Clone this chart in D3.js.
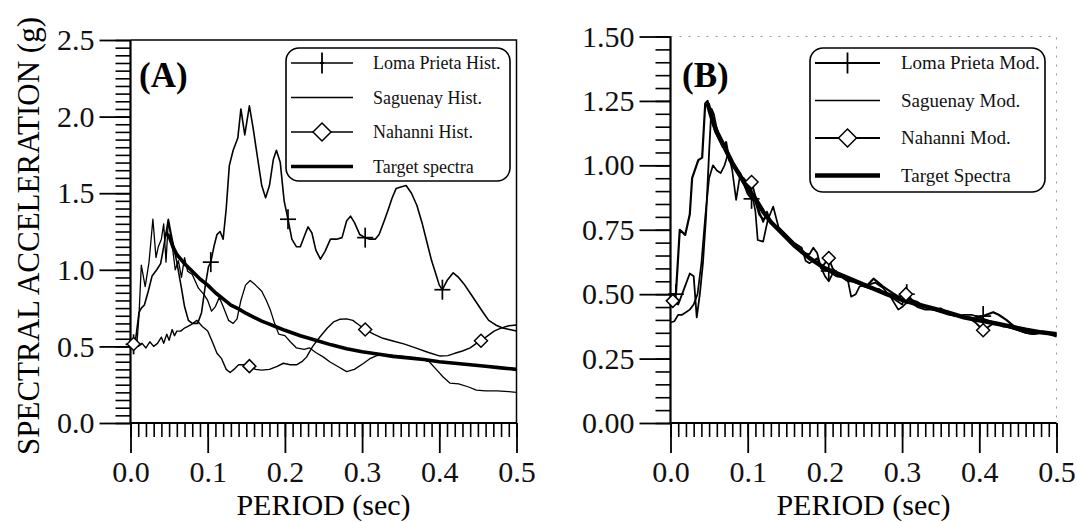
<!DOCTYPE html>
<html>
<head>
<meta charset="utf-8">
<script src="https://cdn.jsdelivr.net/npm/d3@7.9.0/dist/d3.min.js"></script>
<style>
  html, body { margin: 0; padding: 0; background: #fff; }
  svg { display: block; font-family: "Liberation Serif", "Times New Roman", serif; }
  .tick text { font-size: 30px; fill: #111; }
</style>
</head>
<body>
<svg id="chart" width="1077" height="522"></svg>
<script>
// ---- panel A: historical records, [period (s), Sa (g)] ----
const lomaHistA = [[0,0.5],[0.006,0.52],[0.011,0.72],[0.014,0.75],[0.018,0.77],[0.023,0.86],[0.028,0.96],[0.034,1.0],[0.039,1.04],[0.043,1.15],[0.046,1.24],[0.049,1.33],[0.052,1.25],[0.056,1.15],[0.06,1.05],[0.066,0.88],[0.07,0.76],[0.075,0.67],[0.08,0.65],[0.087,0.65],[0.092,0.72],[0.097,0.9],[0.101,1.02],[0.104,1.05],[0.108,1.15],[0.112,1.23],[0.116,1.25],[0.12,1.2],[0.124,1.4],[0.128,1.68],[0.133,1.78],[0.139,1.86],[0.143,2.05],[0.148,1.88],[0.154,2.07],[0.159,1.92],[0.164,1.75],[0.17,1.55],[0.175,1.47],[0.18,1.55],[0.185,1.72],[0.189,1.78],[0.194,1.7],[0.199,1.45],[0.204,1.33],[0.209,1.2],[0.215,1.15],[0.22,1.15],[0.226,1.23],[0.23,1.28],[0.235,1.24],[0.24,1.13],[0.246,1.07],[0.252,1.12],[0.259,1.2],[0.267,1.2],[0.274,1.21],[0.28,1.32],[0.285,1.35],[0.29,1.31],[0.297,1.23],[0.304,1.21],[0.31,1.2],[0.317,1.2],[0.322,1.23],[0.328,1.31],[0.333,1.38],[0.339,1.47],[0.344,1.53],[0.35,1.54],[0.357,1.55],[0.364,1.5],[0.371,1.42],[0.378,1.3],[0.384,1.18],[0.39,1.06],[0.395,0.98],[0.4,0.9],[0.404,0.87],[0.41,0.93],[0.418,0.98],[0.425,0.95],[0.433,0.9],[0.441,0.84],[0.449,0.78],[0.457,0.72],[0.464,0.67],[0.473,0.64],[0.482,0.62],[0.491,0.61],[0.5,0.6]];
const sagHistA = [[0,0.5],[0.008,0.5],[0.011,0.7],[0.014,1.03],[0.019,0.89],[0.024,1.05],[0.029,1.33],[0.033,1.08],[0.036,1.15],[0.04,1.2],[0.043,1.3],[0.046,1.05],[0.049,1.32],[0.052,1.22],[0.055,1.12],[0.058,1.0],[0.062,1.06],[0.066,0.95],[0.07,1.08],[0.074,0.99],[0.08,0.97],[0.088,0.88],[0.095,0.84],[0.1,0.8],[0.105,0.73],[0.11,0.76],[0.115,0.82],[0.12,0.76],[0.127,0.67],[0.133,0.65],[0.138,0.68],[0.143,0.8],[0.149,0.9],[0.155,0.93],[0.162,0.9],[0.17,0.86],[0.176,0.8],[0.181,0.74],[0.186,0.66],[0.192,0.58],[0.2,0.57],[0.207,0.53],[0.215,0.49],[0.225,0.48],[0.232,0.49],[0.24,0.46],[0.25,0.43],[0.258,0.4],[0.268,0.37],[0.28,0.335],[0.29,0.35],[0.302,0.39],[0.31,0.42],[0.319,0.44],[0.33,0.445],[0.345,0.44],[0.36,0.43],[0.375,0.42],[0.387,0.4],[0.396,0.35],[0.405,0.3],[0.414,0.26],[0.425,0.255],[0.438,0.235],[0.448,0.215],[0.46,0.21],[0.475,0.21],[0.49,0.205],[0.5,0.2]];
const nahHistA = [[0,0.5],[0.005,0.52],[0.01,0.5],[0.015,0.52],[0.02,0.49],[0.025,0.53],[0.03,0.5],[0.035,0.52],[0.04,0.56],[0.043,0.52],[0.047,0.58],[0.05,0.54],[0.054,0.61],[0.057,0.57],[0.06,0.6],[0.065,0.6],[0.07,0.62],[0.078,0.64],[0.086,0.67],[0.093,0.63],[0.1,0.6],[0.106,0.53],[0.112,0.455],[0.118,0.42],[0.124,0.35],[0.129,0.33],[0.134,0.35],[0.14,0.38],[0.146,0.38],[0.155,0.37],[0.162,0.35],[0.17,0.345],[0.18,0.35],[0.19,0.37],[0.198,0.39],[0.207,0.38],[0.215,0.38],[0.222,0.4],[0.228,0.43],[0.236,0.5],[0.245,0.56],[0.255,0.62],[0.263,0.66],[0.271,0.677],[0.28,0.68],[0.288,0.67],[0.296,0.64],[0.305,0.607],[0.315,0.58],[0.327,0.553],[0.34,0.535],[0.355,0.515],[0.371,0.487],[0.386,0.46],[0.401,0.437],[0.411,0.44],[0.42,0.455],[0.43,0.47],[0.44,0.49],[0.448,0.52],[0.455,0.54],[0.463,0.57],[0.471,0.6],[0.479,0.618],[0.49,0.635],[0.5,0.64]];
const targetA = [[0.045,1.24],[0.05,1.22],[0.055,1.15],[0.06,1.1],[0.07,1.04],[0.08,0.99],[0.09,0.94],[0.1,0.9],[0.11,0.85],[0.12,0.81],[0.13,0.77],[0.14,0.745],[0.15,0.715],[0.16,0.69],[0.17,0.665],[0.18,0.645],[0.19,0.625],[0.2,0.605],[0.22,0.57],[0.24,0.54],[0.26,0.51],[0.28,0.485],[0.3,0.465],[0.32,0.45],[0.34,0.435],[0.36,0.425],[0.38,0.415],[0.4,0.4],[0.42,0.39],[0.44,0.38],[0.46,0.37],[0.48,0.36],[0.5,0.35]];
const lomaMarksA = [0.004, 0.104, 0.204, 0.304, 0.404];
const nahMarksA = [0.004, 0.154, 0.304, 0.454];

// ---- panel B: modified records ----
const lomaModB = [[0,0.5],[0.007,0.5],[0.012,0.75],[0.019,0.73],[0.025,0.81],[0.028,0.95],[0.036,1.02],[0.041,1.03],[0.045,1.24],[0.048,1.25],[0.053,1.18],[0.058,1.13],[0.063,1.1],[0.068,1.07],[0.072,1.09],[0.076,1.02],[0.08,1.0],[0.085,0.98],[0.09,0.97],[0.095,0.93],[0.1,0.89],[0.105,0.87],[0.11,0.86],[0.115,0.81],[0.12,0.79],[0.125,0.8],[0.13,0.78],[0.14,0.75],[0.15,0.72],[0.16,0.69],[0.17,0.66],[0.18,0.64],[0.19,0.62],[0.2,0.6],[0.205,0.59],[0.215,0.57],[0.225,0.565],[0.235,0.55],[0.245,0.54],[0.255,0.535],[0.263,0.56],[0.275,0.53],[0.285,0.51],[0.295,0.49],[0.306,0.5],[0.315,0.47],[0.325,0.455],[0.335,0.445],[0.345,0.44],[0.355,0.43],[0.365,0.42],[0.375,0.415],[0.385,0.41],[0.395,0.405],[0.405,0.415],[0.418,0.43],[0.425,0.42],[0.435,0.4],[0.445,0.375],[0.455,0.36],[0.47,0.35],[0.485,0.35],[0.5,0.345]];
const sagModB = [[0,0.39],[0.005,0.395],[0.01,0.42],[0.015,0.42],[0.02,0.43],[0.025,0.44],[0.03,0.46],[0.035,0.5],[0.04,0.62],[0.045,0.8],[0.05,0.95],[0.055,1.0],[0.06,0.98],[0.065,0.97],[0.07,1.0],[0.075,1.05],[0.08,0.98],[0.085,0.866],[0.09,0.96],[0.095,0.95],[0.1,0.93],[0.105,0.9],[0.11,0.82],[0.113,0.71],[0.12,0.704],[0.126,0.788],[0.133,0.84],[0.14,0.76],[0.15,0.73],[0.16,0.7],[0.17,0.68],[0.175,0.63],[0.18,0.62],[0.19,0.64],[0.2,0.57],[0.205,0.55],[0.21,0.58],[0.22,0.57],[0.23,0.55],[0.234,0.49],[0.24,0.5],[0.245,0.53],[0.255,0.535],[0.265,0.545],[0.275,0.525],[0.285,0.49],[0.295,0.44],[0.3,0.45],[0.31,0.48],[0.32,0.47],[0.33,0.45],[0.34,0.44],[0.35,0.43],[0.36,0.42],[0.37,0.415],[0.38,0.42],[0.39,0.42],[0.4,0.41],[0.41,0.4],[0.42,0.39],[0.43,0.375],[0.44,0.37],[0.45,0.36],[0.46,0.35],[0.47,0.345],[0.48,0.35],[0.49,0.35],[0.5,0.34]];
const nahModB = [[0,0.48],[0.005,0.47],[0.01,0.46],[0.015,0.5],[0.02,0.54],[0.025,0.58],[0.03,0.57],[0.034,0.41],[0.038,0.5],[0.042,0.62],[0.046,0.8],[0.05,1.05],[0.053,1.22],[0.056,1.2],[0.06,1.14],[0.065,1.1],[0.07,1.06],[0.075,1.03],[0.08,1.0],[0.085,0.99],[0.09,0.97],[0.095,0.94],[0.1,0.92],[0.105,0.935],[0.11,0.88],[0.115,0.82],[0.12,0.78],[0.125,0.82],[0.13,0.78],[0.14,0.75],[0.15,0.72],[0.155,0.7],[0.165,0.68],[0.17,0.66],[0.18,0.655],[0.185,0.68],[0.19,0.66],[0.195,0.6],[0.205,0.64],[0.21,0.6],[0.22,0.57],[0.23,0.55],[0.24,0.55],[0.25,0.53],[0.26,0.52],[0.27,0.52],[0.28,0.5],[0.29,0.48],[0.3,0.46],[0.305,0.5],[0.31,0.47],[0.32,0.45],[0.33,0.44],[0.34,0.44],[0.35,0.445],[0.36,0.425],[0.37,0.42],[0.38,0.41],[0.39,0.4],[0.395,0.39],[0.405,0.36],[0.41,0.37],[0.42,0.39],[0.43,0.38],[0.44,0.37],[0.45,0.36],[0.46,0.35],[0.47,0.345],[0.48,0.35],[0.49,0.345],[0.5,0.335]];
const targetB = [[0.048,1.24],[0.05,1.22],[0.055,1.17],[0.06,1.13],[0.07,1.07],[0.08,1.01],[0.09,0.96],[0.1,0.91],[0.11,0.87],[0.12,0.82],[0.13,0.78],[0.14,0.75],[0.15,0.72],[0.16,0.69],[0.17,0.665],[0.18,0.64],[0.19,0.62],[0.2,0.6],[0.22,0.575],[0.24,0.55],[0.26,0.525],[0.28,0.5],[0.3,0.478],[0.32,0.46],[0.34,0.445],[0.36,0.428],[0.38,0.41],[0.4,0.398],[0.42,0.387],[0.44,0.375],[0.46,0.362],[0.48,0.352],[0.5,0.345]];
const lomaMarksB = [0.007, 0.105, 0.205, 0.306, 0.405];
const nahMarksB = [0.003, 0.105, 0.205, 0.305, 0.405];

const xTicks = [0, 0.1, 0.2, 0.3, 0.4, 0.5];
const yTicksA = [0, 0.5, 1.0, 1.5, 2.0, 2.5];
const yTicksB = [0, 0.25, 0.5, 0.75, 1.0, 1.25, 1.5];
const legendA = ['Loma Prieta Hist.', 'Saguenay Hist.', 'Nahanni Hist.', 'Target spectra'];
const legendB = ['Loma Prieta Mod.', 'Saguenay Mod.', 'Nahanni Mod.', 'Target Spectra'];

const svg = d3.select('#chart');

function interp(series, t) {
  const i = d3.bisector(d => d[0]).left(series, t);
  if (i <= 0) return series[0][1];
  if (i >= series.length) return series[series.length - 1][1];
  const [t0, v0] = series[i - 1], [t1, v1] = series[i];
  return v0 + (v1 - v0) * (t - t0) / (t1 - t0);
}

function cross(g, cx, cy, w, h, sw) {
  g.append('line').attr('x1', cx - w / 2).attr('x2', cx + w / 2).attr('y1', cy).attr('y2', cy)
    .attr('stroke', '#000').attr('stroke-width', sw);
  g.append('line').attr('x1', cx).attr('x2', cx).attr('y1', cy - h / 2).attr('y2', cy + h / 2)
    .attr('stroke', '#000').attr('stroke-width', sw);
}
function diamond(g, cx, cy, r, sw) {
  g.append('path').attr('d', `M${cx},${cy - r}L${cx + r},${cy}L${cx},${cy + r}L${cx - r},${cy}Z`)
    .attr('fill', '#fff').attr('stroke', '#000').attr('stroke-width', sw);
}

function panel(cfg) {
  const x = d3.scaleLinear([0, 0.5], cfg.xr);
  const y = d3.scaleLinear([0, cfg.ymax], cfg.yr);
  const g = svg.append('g');

  // frame (top / right)
  g.append('path')
    .attr('d', `M${cfg.xr[0]},${cfg.yr[1]}H${cfg.xr[1]}V${cfg.yr[0]}`)
    .attr('fill', 'none')
    .attr('stroke', cfg.frameColor).attr('stroke-width', cfg.frameWidth)
    .attr('stroke-dasharray', cfg.frameDash);

  // x minor + major ticks
  g.append('g').attr('transform', `translate(0,${cfg.yr[0]})`)
    .call(d3.axisBottom(x).tickValues(d3.range(0, 51).map(i => i / 100)).tickSize(14).tickFormat(''))
    .call(a => a.select('.domain').remove())
    .call(a => a.selectAll('line').attr('stroke-width', 1.6));
  g.append('g').attr('transform', `translate(0,${cfg.yr[0]})`)
    .call(d3.axisBottom(x).tickValues(xTicks).tickSize(30).tickPadding(8).tickFormat(d3.format('.1f')))
    .call(a => a.select('.domain').remove())
    .call(a => a.selectAll('line').attr('stroke-width', 1.8))
    .call(a => a.selectAll('text').attr('font-family', '"Liberation Serif", serif'));

  // y minor + major ticks
  const yMinor = d3.range(0, Math.round(cfg.ymax / 0.05) + 1).map(i => i * 0.05);
  g.append('g').attr('transform', `translate(${cfg.xr[0]},0)`)
    .call(d3.axisLeft(y).tickValues(yMinor).tickSize(15).tickFormat(''))
    .call(a => a.select('.domain').remove())
    .call(a => a.selectAll('line').attr('stroke-width', 1.6));
  g.append('g').attr('transform', `translate(${cfg.xr[0]},0)`)
    .call(d3.axisLeft(y).tickValues(cfg.yTicks).tickSize(31).tickPadding(5).tickFormat(d3.format(cfg.yFmt)))
    .call(a => a.select('.domain').remove())
    .call(a => a.selectAll('line').attr('stroke-width', 1.8))
    .call(a => a.selectAll('text').attr('font-family', '"Liberation Serif", serif'));

  // axis lines
  g.append('line').attr('x1', cfg.xr[0]).attr('x2', cfg.xr[1]).attr('y1', cfg.yr[0]).attr('y2', cfg.yr[0])
    .attr('stroke', '#000').attr('stroke-width', 2.2);
  g.append('line').attr('x1', cfg.xr[0]).attr('x2', cfg.xr[0]).attr('y1', cfg.yr[0]).attr('y2', cfg.yr[1])
    .attr('stroke', '#000').attr('stroke-width', 2.2);

  // curves
  const line = d3.line().x(d => x(d[0])).y(d => y(d[1]));
  cfg.series.forEach(s => {
    g.append('path').datum(s.data).attr('d', line)
      .attr('fill', 'none').attr('stroke', '#000')
      .attr('stroke-width', s.width).attr('stroke-linejoin', 'round');
  });
  cfg.lomaMarks.forEach(t => cross(g, x(t), y(interp(cfg.series[0].data, t)), 16, 20, 1.7));
  cfg.nahMarks.forEach(t => diamond(g, x(t), y(interp(cfg.series[2].data, t)), 6.5, 1.5));

  // panel tag
  g.append('text').attr('x', cfg.tag[1]).attr('y', 87)
    .attr('font-size', 35).attr('font-weight', 'bold').text(cfg.tag[0]);

  // legend
  const L = cfg.legend;
  g.append('rect').attr('x', L.x).attr('y', L.y).attr('width', L.w).attr('height', L.h)
    .attr('rx', 13).attr('fill', '#fff').attr('stroke', '#000').attr('stroke-width', 1.6);
  cfg.labels.forEach((lab, i) => {
    const ry = L.y + L.row0 + i * L.step;
    const s = cfg.series[i];
    g.append('line').attr('x1', L.x + 5).attr('x2', L.x + 5 + L.lineW).attr('y1', ry).attr('y2', ry)
      .attr('stroke', '#000').attr('stroke-width', s.width);
    const mx = L.x + 5 + L.lineW / 2;
    if (i === 0) cross(g, mx, ry, 4, 21, 1.8);
    if (i === 2) diamond(g, mx, ry, 9, 1.5);
    g.append('text').attr('x', L.textX).attr('y', ry + 6)
      .attr('font-size', L.fs).attr('fill', '#111').text(lab);
  });

  // axis title
  g.append('text').attr('x', (cfg.xr[0] + cfg.xr[1]) / 2).attr('y', 515)
    .attr('text-anchor', 'middle').attr('font-size', 30).text('PERIOD (sec)');
}

panel({
  xr: [130.5, 516.5], yr: [423, 40], ymax: 2.5, yTicks: yTicksA, yFmt: '.1f',
  frameColor: '#000', frameWidth: 1.5, frameDash: null,
  series: [
    { data: lomaHistA, width: 1.6 },
    { data: sagHistA, width: 1.3 },
    { data: nahHistA, width: 1.4 },
    { data: targetA, width: 3.6 }
  ],
  lomaMarks: lomaMarksA, nahMarks: nahMarksA,
  tag: ['(A)', 139],
  legend: { x: 286, y: 48, w: 224, h: 133, row0: 15, step: 34.5, lineW: 62, textX: 373, fs: 18 },
  labels: legendA
});

panel({
  xr: [670.5, 1056.5], yr: [423, 36.5], ymax: 1.5, yTicks: yTicksB, yFmt: '.2f',
  frameColor: '#999', frameWidth: 1, frameDash: '2,7',
  series: [
    { data: lomaModB, width: 2.2 },
    { data: sagModB, width: 1.7 },
    { data: nahModB, width: 1.8 },
    { data: targetB, width: 4.4 }
  ],
  lomaMarks: lomaMarksB, nahMarks: nahMarksB,
  tag: ['(B)', 682],
  legend: { x: 810, y: 48, w: 235, h: 144, row0: 15, step: 37.5, lineW: 65, textX: 901, fs: 19 },
  labels: legendB
});

svg.append('text').attr('transform', 'translate(39,236) rotate(-90)')
  .attr('text-anchor', 'middle').attr('font-size', 31).text('SPECTRAL ACCELERATION (g)');
</script>
</body>
</html>
